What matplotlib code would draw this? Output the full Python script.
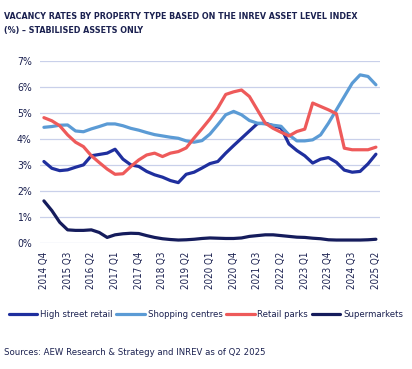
import numpy as np
import matplotlib
matplotlib.use("Agg")
import matplotlib.pyplot as plt
from matplotlib import font_manager as fm

# Trimestres 2014 Q4 -> 2025 Q2
quarters = []
for year in range(2014, 2026):
    for q in range(1, 5):
        if (year, q) < (2014, 4) or (year, q) > (2025, 2):
            continue
        quarters.append(f"{year} Q{q}")

high_street = [3.13, 2.87, 2.78, 2.81, 2.91, 3.00, 3.35, 3.40, 3.45, 3.60,
               3.22, 3.00, 2.94, 2.75, 2.62, 2.53, 2.40, 2.32, 2.64, 2.72,
               2.88, 3.05, 3.13, 3.45, 3.74, 4.02, 4.30, 4.58, 4.60, 4.50,
               4.42, 3.80, 3.55, 3.35, 3.07, 3.22, 3.28, 3.10, 2.80, 2.72,
               2.75, 3.04, 3.41]
shopping = [4.44, 4.47, 4.52, 4.53, 4.30, 4.27, 4.38, 4.47, 4.57, 4.57,
            4.50, 4.40, 4.33, 4.24, 4.16, 4.11, 4.06, 4.02, 3.92, 3.87,
            3.93, 4.18, 4.54, 4.92, 5.05, 4.92, 4.70, 4.60, 4.57, 4.52,
            4.48, 4.15, 3.92, 3.92, 3.96, 4.15, 4.60, 5.11, 5.62, 6.13,
            6.45, 6.39, 6.07]
retail_parks = [4.81, 4.69, 4.50, 4.15, 3.87, 3.70, 3.35, 3.09, 2.84, 2.64,
                2.66, 2.94, 3.19, 3.38, 3.45, 3.32, 3.45, 3.51, 3.65, 4.03,
                4.39, 4.76, 5.18, 5.70, 5.80, 5.87, 5.62, 5.11, 4.60, 4.40,
                4.25, 4.11, 4.28, 4.37, 5.37, 5.24, 5.11, 4.96, 3.64, 3.58,
                3.58, 3.58, 3.68]
supermarkets = [1.62, 1.25, 0.80, 0.51, 0.49, 0.49, 0.51, 0.41, 0.22, 0.32,
                0.36, 0.38, 0.37, 0.29, 0.22, 0.17, 0.14, 0.12, 0.13, 0.15,
                0.18, 0.20, 0.19, 0.18, 0.18, 0.20, 0.26, 0.29, 0.32, 0.32,
                0.29, 0.26, 0.23, 0.22, 0.19, 0.17, 0.13, 0.12, 0.12, 0.12,
                0.12, 0.13, 0.15]

series_names = ["High street retail", "Shopping centres", "Retail parks", "Supermarkets"]
series_colors = ["#1f2f9e", "#5b9bd5", "#ee5a5a", "#151c5c"]
ytick_vals = [0, 1, 2, 3, 4, 5, 6, 7]

text_col = "#1b2150"

# police étroite si disponible
installed = {f.name for f in fm.fontManager.ttflist}
if "Liberation Sans Narrow" in installed:
    plt.rcParams['font.family'] = ['Liberation Sans Narrow', 'DejaVu Sans']
else:
    plt.rcParams['font.family'] = ['DejaVu Sans']
    plt.rcParams['font.stretch'] = 'condensed'

fig = plt.figure(figsize=(4.12, 3.69), dpi=100)
ax = fig.add_axes([0.097, 0.341, 0.825, 0.495])

x = np.arange(len(quarters))
for vals, name, col in zip([high_street, shopping, retail_parks, supermarkets],
                           series_names, series_colors):
    ax.plot(x, vals, color=col, lw=2.3, label=name, solid_joinstyle="round",
            solid_capstyle="round")

ax.set_ylim(0, 7)
ax.set_xlim(-0.5, 42.5)
ax.set_yticks(ytick_vals)
ax.set_yticklabels([f"{v}%" for v in ytick_vals], fontsize=7.5, color=text_col)
ax.set_xticks(x[::3])
ax.set_xticklabels(quarters[::3], rotation=90, fontsize=7, color=text_col)
ax.tick_params(length=0, pad=6)
ax.grid(axis="y", color="#c9d0ea", lw=0.9)
ax.set_axisbelow(True)
for s in ax.spines.values():
    s.set_visible(False)

t1 = fig.text(0.01, 0.955, "VACANCY RATES BY PROPERTY TYPE BASED ON THE INREV ASSET LEVEL INDEX",
              fontsize=8.5, fontweight="bold", color=text_col, va="center")
t2 = fig.text(0.01, 0.917, "(%) – STABILISED ASSETS ONLY",
              fontsize=8.5, fontweight="bold", color=text_col, va="center")
src = fig.text(0.01, 0.045, "Sources: AEW Research & Strategy and INREV as of Q2 2025",
               fontsize=7.5, color=text_col, va="center")

# ajuster les tailles aux largeurs du modèle (en pixels)
renderer = fig.canvas.get_renderer()
w = t1.get_window_extent(renderer).width
fs_title = min(9.0, 8.5 * 352 / w)
t1.set_fontsize(fs_title)
t2.set_fontsize(fs_title)
w = src.get_window_extent(renderer).width
src.set_fontsize(min(8.5, 7.5 * 258 / w))

leg_fs = 7.5
for _ in range(3):
    leg = fig.legend(loc="center", bbox_to_anchor=(0.5, 0.147), ncol=4, frameon=False,
                     fontsize=leg_fs, handlelength=3.0, handletextpad=0.3,
                     columnspacing=0.4, labelcolor=text_col)
    lw = leg.get_window_extent(renderer).width
    if abs(lw - 400) < 6:
        break
    leg.remove()
    leg_fs = min(8.5, leg_fs * 400 / lw)

fig.savefig("out.png", dpi=100)
